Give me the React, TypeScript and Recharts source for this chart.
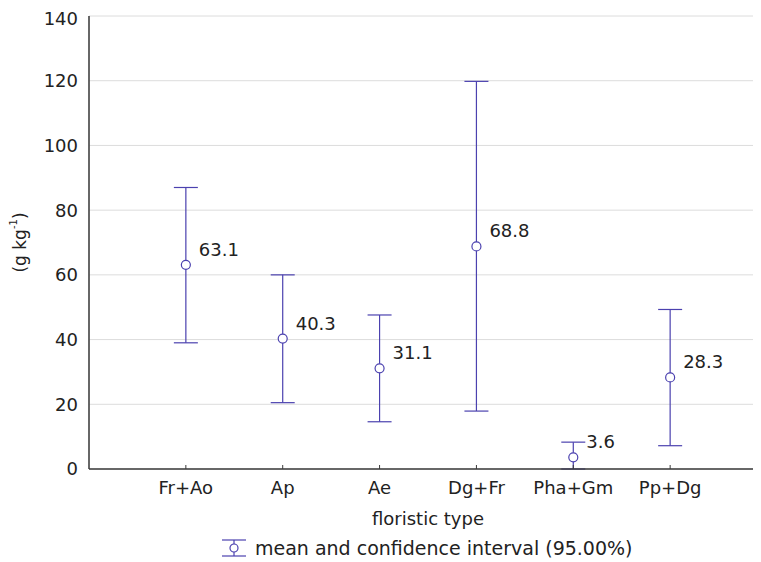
import {
  ScatterChart,
  Scatter,
  XAxis,
  YAxis,
  CartesianGrid,
  ErrorBar,
  Legend,
  Label,
} from "recharts";

const categories = ["Fr+Ao", "Ap", "Ae", "Dg+Fr", "Pha+Gm", "Pp+Dg"];
const means = [63.1, 40.3, 31.1, 68.8, 3.6, 28.3];
const lowerBounds = [39.0, 20.5, 14.6, 17.9, 0, 7.2];
const upperBounds = [87.0, 60.0, 47.6, 119.8, 8.3, 49.3];
const yTicks = [0, 20, 40, 60, 80, 100, 120, 140];
const xTicks = [1, 2, 3, 4, 5, 6];

const COLOR = "#4b41af";
const AXIS = "#3a3a3a";
// no serif face is installed in the sandbox, DejaVu Sans has the closest widths
const FONT = "'DejaVu Sans', sans-serif";
const FS = 18;

const data = categories.map((name, i) => ({
  pos: i + 1,
  name,
  mean: means[i],
  err: [means[i] - lowerBounds[i], upperBounds[i] - means[i]],
}));

// circle marker with the mean written next to it
const PointShape = (props: any) => {
  const { cx, cy, payload } = props;
  return (
    <g>
      <circle cx={cx} cy={cy} r={4.5} fill="#fff" stroke={COLOR} strokeWidth={1.2} />
      <text x={cx + 13} y={cy - 9} fontFamily={FONT} fontSize={FS} fill="#222">
        {payload.mean.toFixed(1)}
      </text>
    </g>
  );
};

// bottom tick: short inside mark plus the category name below
const CategoryTick = (props: any) => {
  const { x, y, payload } = props;
  return (
    <g>
      <line x1={x} y1={y} x2={x} y2={y - 4} stroke={AXIS} strokeWidth={1} />
      <text x={x} y={y + 25} textAnchor="middle" fontFamily={FONT} fontSize={FS} fill="#222">
        {categories[payload.value - 1]}
      </text>
    </g>
  );
};

const LegendContent = () => (
  <div
    style={{
      display: "flex",
      alignItems: "center",
      paddingLeft: 214,
      height: 22,
      lineHeight: "22px",
      fontFamily: FONT,
      fontSize: 19,
      color: "#222",
    }}
  >
    <svg width={24} height={20} style={{ marginRight: 9 }}>
      <line x1={0} y1={2} x2={24} y2={2} stroke={COLOR} strokeWidth={1.2} />
      <line x1={0} y1={18} x2={24} y2={18} stroke={COLOR} strokeWidth={1.2} />
      <line x1={12} y1={2} x2={12} y2={18} stroke={COLOR} strokeWidth={1.2} />
      <circle cx={12} cy={10} r={4} fill="#fff" stroke={COLOR} strokeWidth={1.2} />
    </svg>
    <span>mean and confidence interval (95.00%)</span>
  </div>
);

export default function App() {
  return (
    <div style={{ width: 753, height: 554, overflow: "hidden" }}>
      <ScatterChart
        width={770}
        height={554}
        margin={{ top: 8, right: 11, bottom: 53, left: 21 }}
      >
        <CartesianGrid stroke="#dcdcdc" strokeWidth={1} />
        <Scatter
          xAxisId="bottom"
          data={data}
          dataKey="mean"
          shape={<PointShape />}
          isAnimationActive={false}
        >
          <ErrorBar
            dataKey="err"
            direction="y"
            width={12}
            stroke={COLOR}
            strokeWidth={1.2}
            isAnimationActive={false}
          />
        </Scatter>
        <XAxis
          xAxisId="bottom"
          dataKey="pos"
          type="number"
          domain={[0, 7]}
          ticks={xTicks}
          interval={0}
          height={40}
          stroke={AXIS}
          strokeWidth={1.5}
          tickLine={false}
          tickSize={0}
          tickMargin={0}
          tick={<CategoryTick />}
        >
          <Label
            content={({ viewBox }: any) => (
              <text
                x={viewBox.x + viewBox.width / 2}
                y={viewBox.y + 56}
                textAnchor="middle"
                fontFamily={FONT}
                fontSize={FS}
                fill="#222"
              >
                floristic type
              </text>
            )}
          />
        </XAxis>
        <XAxis
          xAxisId="top"
          orientation="top"
          type="number"
          domain={[0, 7]}
          ticks={xTicks}
          height={0}
          mirror
          tick={false}
          tickSize={4}
          stroke={AXIS}
          strokeWidth={1.5}
        />
        <YAxis
          dataKey="mean"
          type="number"
          domain={[0, 140]}
          ticks={yTicks}
          width={60}
          stroke={AXIS}
          strokeWidth={1.5}
          tickLine={false}
          tickSize={0}
          tickMargin={11}
          tick={{ fontFamily: FONT, fontSize: FS, fill: "#222" }}
        >
          <Label
            content={({ viewBox }: any) => {
              const cx = 12;
              const cy = viewBox.y + viewBox.height / 2;
              return (
                <text
                  x={cx}
                  y={cy}
                  transform={`rotate(-90, ${cx}, ${cy})`}
                  textAnchor="middle"
                  dominantBaseline="central"
                  fontFamily={FONT}
                  fontSize={17}
                  fill="#222"
                >
                  (g kg
                  <tspan dy={-7} fontSize={10}>
                    -1
                  </tspan>
                  <tspan dy={7}>)</tspan>
                </text>
              );
            }}
          />
        </YAxis>
        <Legend
          layout="horizontal"
          verticalAlign="middle"
          align="center"
          content={<LegendContent />}
          wrapperStyle={{ position: "absolute", left: 0, top: 529, width: 761, margin: 0 }}
        />
      </ScatterChart>
    </div>
  );
}
